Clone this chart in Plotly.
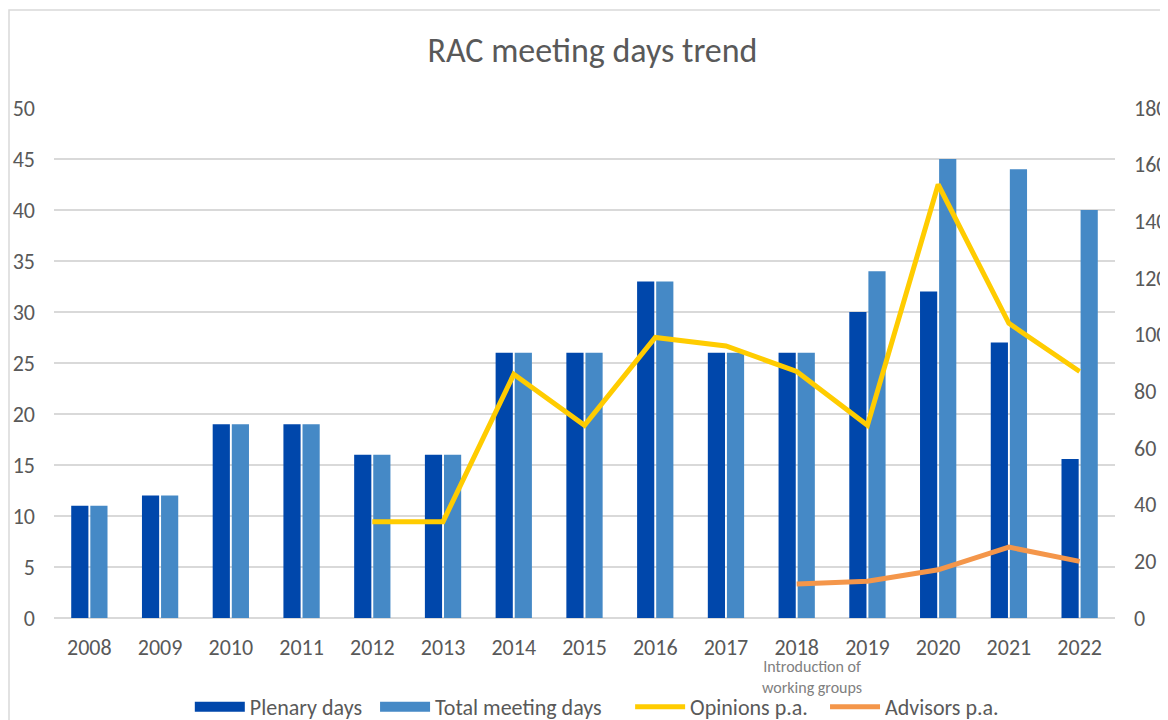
import plotly.graph_objects as go

years = ["2008", "2009", "2010", "2011", "2012", "2013", "2014", "2015",
         "2016", "2017", "2018", "2019", "2020", "2021", "2022"]
plenary_days = [11, 12, 19, 19, 16, 16, 26, 26, 33, 26, 26, 30, 32, 27, 15.6]
total_meeting_days = [11, 12, 19, 19, 16, 16, 26, 26, 33, 26, 26, 34, 45, 44, 40]
opinions_pa = [None, None, None, None, 34, 34, 86, 68, 99, 96, 87, 68, 153, 104, 87]
advisors_pa = [None, None, None, None, None, None, None, None, None, None, 12, 13, 17, 25, 20]

FONT = "Carlito, Calibri, Lato, 'Open Sans', sans-serif"
GREY = "#595959"
C_PLEN, C_TOTAL, C_OPIN, C_ADV = "#0047AB", "#4589C6", "#FFCC00", "#F4964A"

fig = go.Figure()
fig.add_trace(go.Bar(x=years, y=plenary_days, name="Plenary days", showlegend=False,
                     legendgroup="plen", marker=dict(color=C_PLEN, line=dict(width=0))))
fig.add_trace(go.Bar(x=years, y=total_meeting_days, name="Total meeting days",
                     showlegend=False, legendgroup="total",
                     marker=dict(color=C_TOTAL, line=dict(width=0))))
fig.add_trace(go.Scatter(x=years, y=opinions_pa, name="Opinions p.a.", mode="lines",
                         yaxis="y2", line=dict(color=C_OPIN, width=5), legend="legend3"))
fig.add_trace(go.Scatter(x=years, y=advisors_pa, name="Advisors p.a.", mode="lines",
                         yaxis="y2", line=dict(color=C_ADV, width=5), legend="legend4"))
# legend entries for the bars drawn as wide blocks (like the reference legend)
fig.add_trace(go.Scatter(x=[None], y=[None], name="Plenary days", mode="lines",
                         legendgroup="plen", line=dict(color=C_PLEN, width=15),
                         legend="legend"))
fig.add_trace(go.Scatter(x=[None], y=[None], name="Total meeting days", mode="lines",
                         legendgroup="total", line=dict(color=C_TOTAL, width=15),
                         legend="legend2"))

def leg(xpos):
    return dict(orientation="h", x=xpos, xanchor="left", y=-0.1745, yanchor="middle",
                font=dict(family=FONT, size=22, color=GREY), itemwidth=50,
                bgcolor="rgba(0,0,0,0)", borderwidth=0)

fig.update_layout(
    template="none",
    width=1168, height=720,
    margin=dict(l=46, r=61, t=100, b=110, autoexpand=False),
    paper_bgcolor="white", plot_bgcolor="white",
    font=dict(family=FONT, size=22, color=GREY),
    title=dict(text="RAC meeting days trend", x=0.5075, xref="paper", xanchor="center",
               y=1 - 42 / 720, yanchor="middle",
               font=dict(family=FONT, size=34, color=GREY)),
    barmode="group", bargap=0.46, bargroupgap=0.1,
    showlegend=True,
    legend=leg(0.128), legend2=leg(0.3026), legend3=leg(0.543), legend4=leg(0.7267),
    xaxis=dict(type="category", range=[-0.5, len(years) - 0.5], showgrid=False,
               showline=False, zeroline=False,
               ticks="", ticklabelstandoff=14, automargin=False,
               tickfont=dict(family=FONT, size=22, color=GREY)),
    yaxis=dict(range=[0, 50], dtick=5, showgrid=True, gridcolor="#d9d9d9", gridwidth=1.5,
               zeroline=True, zerolinecolor="#d9d9d9", zerolinewidth=1.5,
               showline=False, ticks="", ticklabelstandoff=18, automargin=False,
               tickfont=dict(family=FONT, size=22, color=GREY)),
    yaxis2=dict(range=[0, 180], dtick=20, overlaying="y", side="right", showgrid=False,
                zeroline=False, showline=False, ticks="", ticklabelstandoff=18,
                automargin=False, tickfont=dict(family=FONT, size=22, color=GREY)),
)

fig.add_annotation(text="Introduction of<br>working groups", x=years.index("2018"), y=0,
                   xref="x", yref="paper", xshift=15, yshift=-37, yanchor="top",
                   showarrow=False, align="center",
                   font=dict(family=FONT, size=16, color="#808080"))

fig.add_shape(type="rect", xref="paper", yref="paper",
              x0=(1 - 46) / 1061, x1=1.2, y0=-0.4, y1=1 + (100 - 2) / 510,
              line=dict(color="#d9d9d9", width=1.5), fillcolor="rgba(0,0,0,0)",
              layer="below")

fig.write_html("out.html")
